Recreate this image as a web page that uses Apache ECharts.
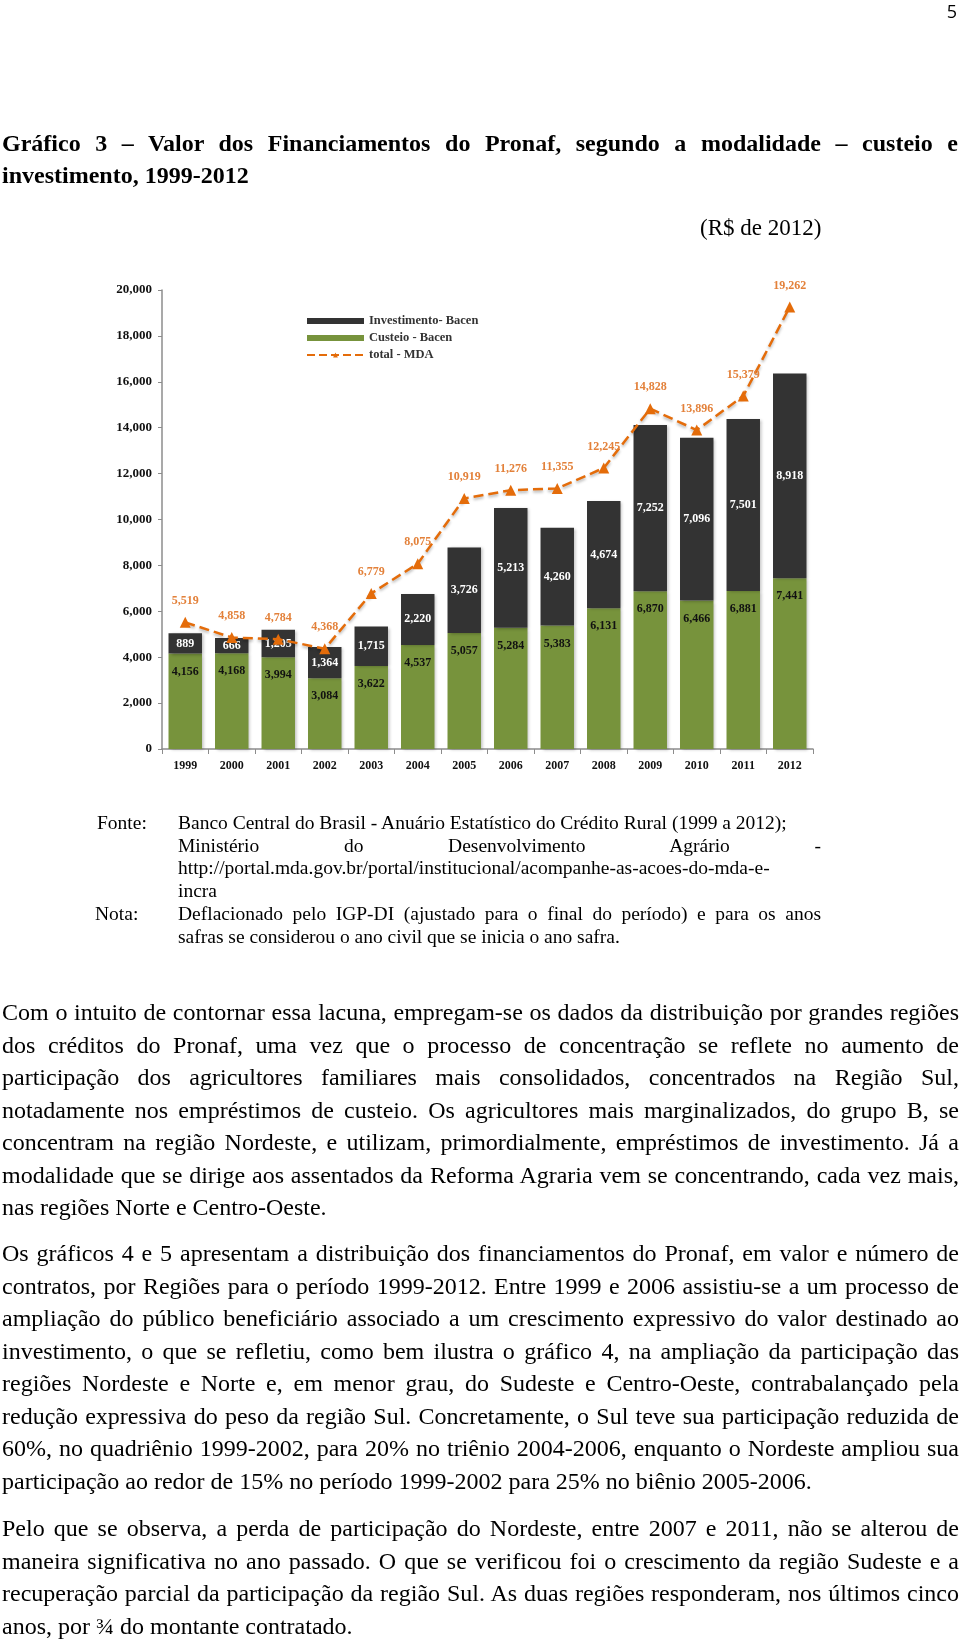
<!DOCTYPE html>
<html>
<head>
<meta charset="utf-8">
<script src="https://cdn.jsdelivr.net/npm/echarts@6/dist/echarts.min.js"></script>
<style>
  html, body { margin: 0; padding: 0; background: #fff; }
  body { width: 960px; height: 1643px; position: relative; overflow: hidden; font-family: "Liberation Serif", serif; color: #000; }
  #chart { position: absolute; left: 0; top: 0; width: 960px; height: 1643px; }
  .abs { position: absolute; white-space: nowrap; }
  .pnum { right: 3px; top: 0px; font-family: "Open Sans", "DejaVu Sans", sans-serif; font-size: 18px; line-height: 22px; }
  .title { left: 2px; top: 127px; width: 956px; font-weight: bold; font-size: 24px; line-height: 32px; }
  .j { text-align: justify; text-align-last: justify; white-space: nowrap; }
  .l { text-align: left; white-space: nowrap; }
  .unit { left: 700px; top: 213px; font-size: 23px; line-height: 30px; }
  .note { font-size: 19.5px; line-height: 22.5px; }
  .para { left: 2px; width: 957px; font-size: 24px; line-height: 32.5px; }
</style>
</head>
<body>
<div id="chart"></div>
<div class="abs pnum">5</div>
<div class="abs title">
  <div class="j">Gráfico 3 – Valor dos Financiamentos do Pronaf, segundo a modalidade – custeio e</div>
  <div class="l">investimento, 1999-2012</div>
</div>
<div class="abs unit">(R$ de 2012)</div>

<div class="abs note" style="left:97px; top:812px;">Fonte:</div>
<div class="abs note" style="left:178px; top:812px; width:643px;">
  <div class="l">Banco Central do Brasil - Anuário Estatístico do Crédito Rural (1999 a 2012);</div>
  <div class="j">Ministério do Desenvolvimento Agrário -</div>
  <div class="l">http://portal.mda.gov.br/portal/institucional/acompanhe-as-acoes-do-mda-e-</div>
  <div class="l">incra</div>
</div>
<div class="abs note" style="left:95px; top:903px;">Nota:</div>
<div class="abs note" style="left:178px; top:903px; width:643px;">
  <div class="j">Deflacionado pelo IGP-DI (ajustado para o final do período) e para os anos</div>
  <div class="l">safras se considerou o ano civil que se inicia o ano safra.</div>
</div>

<div class="abs para" style="top:996px;">
  <div class="j">Com o intuito de contornar essa lacuna, empregam-se os dados da distribuição por grandes regiões</div>
  <div class="j">dos créditos do Pronaf, uma vez que o processo de concentração se reflete no aumento de</div>
  <div class="j">participação dos agricultores familiares mais consolidados, concentrados na Região Sul,</div>
  <div class="j">notadamente nos empréstimos de custeio. Os agricultores mais marginalizados, do grupo B, se</div>
  <div class="j">concentram na região Nordeste, e utilizam, primordialmente, empréstimos de investimento. Já a</div>
  <div class="j">modalidade que se dirige aos assentados da Reforma Agraria vem se concentrando, cada vez mais,</div>
  <div class="l">nas regiões Norte e Centro-Oeste.</div>
</div>
<div class="abs para" style="top:1237px;">
  <div class="j">Os gráficos 4 e 5 apresentam a distribuição dos financiamentos do Pronaf, em valor e número de</div>
  <div class="j">contratos, por Regiões para o período 1999-2012. Entre 1999 e 2006 assistiu-se a um processo de</div>
  <div class="j">ampliação do público beneficiário associado a um crescimento expressivo do valor destinado ao</div>
  <div class="j">investimento, o que se refletiu, como bem ilustra o gráfico 4, na ampliação da participação das</div>
  <div class="j">regiões Nordeste e Norte e, em menor grau, do Sudeste e Centro-Oeste, contrabalançado pela</div>
  <div class="j">redução expressiva do peso da região Sul. Concretamente, o Sul teve sua participação reduzida de</div>
  <div class="j">60%, no quadriênio 1999-2002, para 20% no triênio 2004-2006, enquanto o Nordeste ampliou sua</div>
  <div class="l">participação ao redor de 15% no período 1999-2002 para 25% no biênio 2005-2006.</div>
</div>
<div class="abs para" style="top:1512px;">
  <div class="j">Pelo que se observa, a perda de participação do Nordeste, entre 2007 e 2011, não se alterou de</div>
  <div class="j">maneira significativa no ano passado. O que se verificou foi o crescimento da região Sudeste e a</div>
  <div class="j">recuperação parcial da participação da região Sul. As duas regiões responderam, nos últimos cinco</div>
  <div class="l">anos, por ¾ do montante contratado.</div>
</div>

<script>
const years = ['1999','2000','2001','2002','2003','2004','2005','2006','2007','2008','2009','2010','2011','2012'];
const custeio = [4156, 4168, 3994, 3084, 3622, 4537, 5057, 5284, 5383, 6131, 6870, 6466, 6881, 7441];
const investimento = [889, 666, 1205, 1364, 1715, 2220, 3726, 5213, 4260, 4674, 7252, 7096, 7501, 8918];
const totalMDA = [5519, 4858, 4784, 4368, 6779, 8075, 10919, 11276, 11355, 12245, 14828, 13896, 15379, 19262];
const seriesNames = ['Investimento- Bacen', 'Custeio - Bacen', 'total - MDA'];

const fmt = v => Number(v.value !== undefined ? v.value : v).toLocaleString('en-US');
const FONT = 'Liberation Serif';

const chart = echarts.init(document.getElementById('chart'), null, { renderer: 'canvas' });
chart.setOption({
  animation: false,
  backgroundColor: 'transparent',
  textStyle: { fontFamily: FONT },
  grid: { left: 162, right: 147, top: 290, bottom: 894, containLabel: false },
  legend: {
    orient: 'vertical',
    left: 306, top: 314,
    padding: 0,
    itemWidth: 57, itemHeight: 6,
    itemGap: 3,
    data: [
      { name: seriesNames[0], icon: 'rect' },
      { name: seriesNames[1], icon: 'rect' },
      { name: seriesNames[2] }
    ],
    textStyle: { fontFamily: FONT, fontWeight: 'bold', fontSize: 12.5, color: '#333', lineHeight: 14 }
  },
  xAxis: {
    type: 'category',
    data: years,
    axisLine: { lineStyle: { color: '#8c8c8c', width: 1.5 } },
    axisTick: { show: true, length: 5, lineStyle: { color: '#8c8c8c' } },
    axisLabel: { fontFamily: FONT, fontWeight: 'bold', fontSize: 12, color: '#111', margin: 11 }
  },
  yAxis: {
    type: 'value',
    min: 0, max: 20000, interval: 2000,
    axisLine: { show: true, lineStyle: { color: '#8c8c8c', width: 1.5 } },
    axisTick: { show: true, length: 4, lineStyle: { color: '#8c8c8c' } },
    splitLine: { show: false },
    axisLabel: { fontFamily: FONT, fontWeight: 'bold', fontSize: 13, color: '#111', margin: 10, formatter: v => v.toLocaleString('en-US') }
  },
  series: [
    {
      name: seriesNames[1], type: 'bar', stack: 'a', data: custeio,
      barCategoryGap: '28%',
      itemStyle: { color: '#77933C', shadowBlur: 3, shadowColor: 'rgba(0,0,0,0.25)', shadowOffsetX: 2, shadowOffsetY: 1 },
      label: { show: true, position: 'insideTop', distance: 12, fontFamily: FONT, fontWeight: 'bold', fontSize: 12, color: '#111', formatter: fmt }
    },
    {
      name: seriesNames[0], type: 'bar', stack: 'a', data: investimento,
      barCategoryGap: '28%',
      itemStyle: { color: '#333333', shadowBlur: 3, shadowColor: 'rgba(0,0,0,0.25)', shadowOffsetX: 2, shadowOffsetY: 1 },
      label: { show: true, position: 'inside', fontFamily: FONT, fontWeight: 'bold', fontSize: 12, color: '#fff', formatter: fmt }
    },
    {
      name: seriesNames[2], type: 'line', data: totalMDA,
      symbol: 'triangle', symbolSize: 11,
      itemStyle: { color: '#E46C0A' },
      lineStyle: { color: '#E46C0A', type: 'dashed', width: 2.5, shadowBlur: 3, shadowColor: 'rgba(0,0,0,0.3)', shadowOffsetY: 2 },
      label: { show: true, position: 'top', distance: 10, fontFamily: FONT, fontWeight: 'bold', fontSize: 12, color: '#E3813A', formatter: fmt },
      z: 5
    }
  ]
});
</script>
</body>
</html>
